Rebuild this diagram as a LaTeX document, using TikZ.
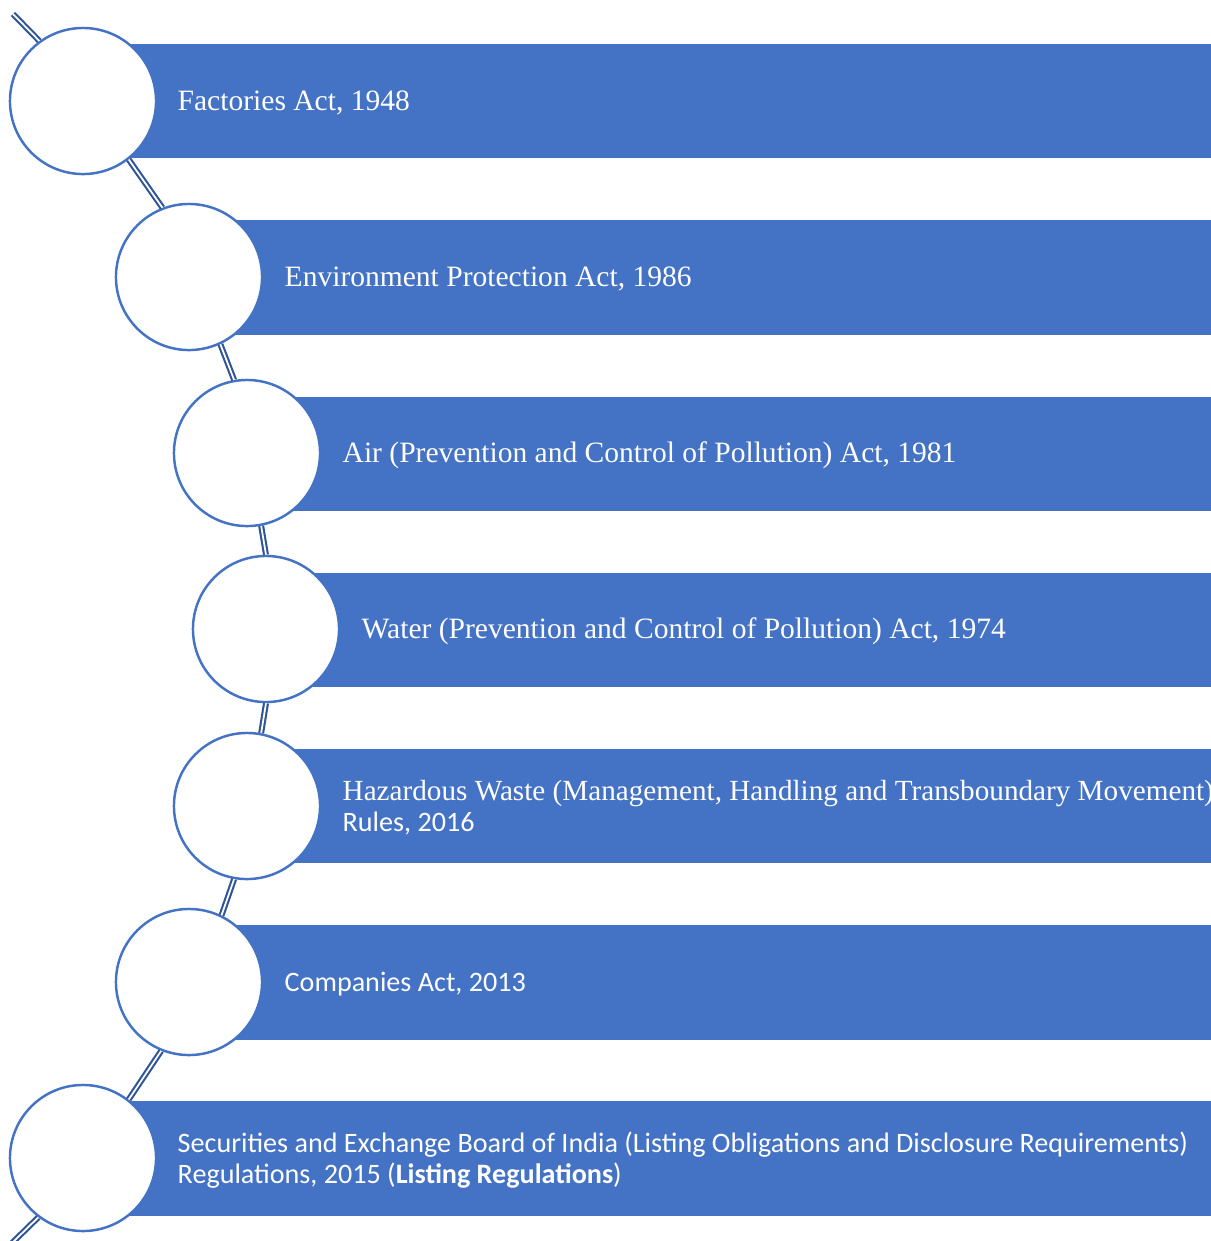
\documentclass[tikz,border=0pt]{standalone}
\usepackage{fontspec}
\setmainfont{Liberation Serif}
\newfontfamily\calibri{Carlito}
\usetikzlibrary{positioning}
\definecolor{barblue}{HTML}{4472C4}
\definecolor{linkblue}{HTML}{2F5597}

\begin{document}
\begin{tikzpicture}
[
                x =  0.01cm,
                y = -0.01cm,
        ring/.style = { draw=barblue, fill=white, circle, line width=0.7pt, minimum size=1.46cm, inner sep=0pt },
        link/.style = { draw=linkblue, double=white, double distance=0.5pt, line width=0.6pt },
         act/.style = { anchor=west, text=white, align=left, inner sep=0pt, font=\fontsize{8.4}{8.8}\selectfont },
        sact/.style = { act, font=\calibri\fontsize{8}{8.6}\selectfont }
]
	\useasboundingbox (0,0) rectangle (1211,1241);
	\clip (0,0) rectangle (1211,1241);

	% bars
	\fill[barblue]  (83,  44) rectangle (1211, 158);
	\fill[barblue] (189, 220) rectangle (1211, 335);
	\fill[barblue] (247, 397) rectangle (1211, 511);
	\fill[barblue] (266, 573) rectangle (1211, 687);
	\fill[barblue] (247, 749) rectangle (1211, 863);
	\fill[barblue] (189, 925) rectangle (1211,1040);
	\fill[barblue]  (83,1101) rectangle (1211,1216);

	\node (c1) at ( 83, 101) [ring] {};
	\node (c2) at (189, 277) [ring] {};
	\node (c3) at (247, 453) [ring] {};
	\node (c4) at (266, 629) [ring] {};
	\node (c5) at (247, 806) [ring] {};
	\node (c6) at (189, 982) [ring] {};
	\node (c7) at ( 83,1158) [ring] {};

	\coordinate (top) at (13, 14);
	\coordinate (bot) at (12,1243);

	\draw[link] (top) -- (c1.126);
	\draw[link] (c1.-52) -- (c2.111);
	\draw[link] (c2.-65) -- (c3.100);
	\draw[link] (c3.-79) -- (c4.90);
	\draw[link] (c4.-90) -- (c5.79);
	\draw[link] (c5.-100) -- (c6.64);
	\draw[link] (c6.-112) -- (c7.52);
	\draw[link] (c7.233) -- (bot);

	\node (t1) at (177, 103) [act] {Factories Act, 1948};
	\node (t2) at (284, 279) [act] {Environment Protection Act, 1986};
	\node (t3) at (342, 455) [act] {Air (Prevention and Control of Pollution) Act, 1981};
	\node (t4) at (361, 631) [act] {Water (Prevention and Control of Pollution) Act, 1974};
	\node (t5) at (342, 808) [act] {{\fontsize{8.3}{8.8}\selectfont Hazardous Waste (Management, Handling and Transboundary Movement)}\\{\calibri\fontsize{8}{8.6}\selectfont Rules, 2016}};
	\node (t6) at (284, 984) [sact] {Companies Act, 2013};
	\node (t7) at (177,1160) [sact] {Securities and Exchange Board of India (Listing Obligations and Disclosure Requirements)\\Regulations, 2015 (\textbf{Listing Regulations})};

\end{tikzpicture}
\end{document}
